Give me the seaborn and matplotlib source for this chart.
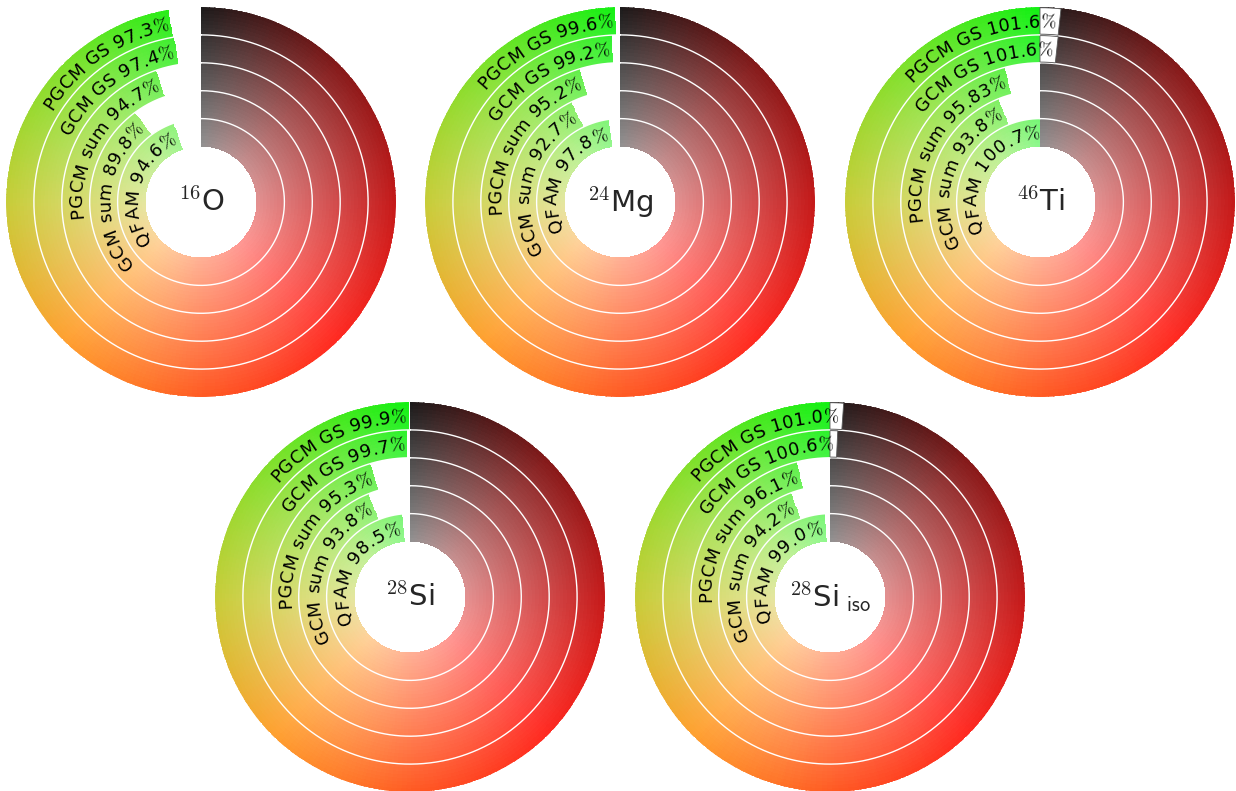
import numpy as np
import matplotlib
matplotlib.use('Agg')
import matplotlib.pyplot as plt
import seaborn as sns
from matplotlib.font_manager import FontProperties, findfont, get_font
from matplotlib.mathtext import MathTextParser

# chart data
symbols = ['O', 'Mg', 'Ti', 'Si', 'Si']
mass_numbers = [16, 24, 46, 28, 28]
suffixes = ['', '', '', '', 'iso']
methods = ['PGCM GS', 'GCM GS', 'PGCM sum', 'GCM sum', 'QFAM']
pct_O = [97.3, 97.4, 94.7, 89.8, 94.6]
pct_Mg = [99.6, 99.2, 95.2, 92.7, 97.8]
pct_Ti = [101.6, 101.6, 95.83, 93.8, 100.7]
pct_Si = [99.9, 99.7, 95.3, 93.8, 98.5]
pct_Si_iso = [101.0, 100.6, 96.1, 94.2, 99.0]
all_pct = [pct_O, pct_Mg, pct_Ti, pct_Si, pct_Si_iso]

# angular colour stops, clockwise from 12 o'clock
ring_colors = ['#1c1a1a', '#841818', '#c41818', '#ff2820', '#ff5a22',
               '#ffa030', '#c8cc38', '#80e02a', '#12f012']

sns.set_theme(style='white')
plt.rcParams['font.family'] = ['DejaVu Sans']
plt.rcParams['mathtext.fontset'] = 'cm'

DPI = 100
W, H = 1236, 791
fig = plt.figure(figsize=(W / DPI, H / DPI), dpi=DPI)

centers = [(201, 202), (620, 202), (1040, 202), (410, 597), (830, 597)]
R_OUT = 195
edges = np.linspace(55.5, R_OUT, 6)
NPAL = 720
palette = np.array(sns.blend_palette(ring_colors, n_colors=NPAL + 1))

FS = 13
FS_PX = FS * DPI / 72
prop = FontProperties(family='DejaVu Sans', size=FS)
font = get_font(findfont(prop))
font.set_size(FS, DPI)
pct_w = MathTextParser('path').parse(r'$\%$', dpi=72, prop=prop).width * DPI / 72


def advance(c):
    if c == '%':
        return pct_w
    return font.load_char(ord(c)).linearHoriAdvance / 65536


for k, (cx, cy) in enumerate(centers):
    ax = fig.add_axes([(cx - R_OUT) / W, (H - cy - R_OUT) / H, 2 * R_OUT / W, 2 * R_OUT / H],
                      projection='polar')
    ax.set_theta_zero_location('N')
    ax.set_theta_direction(-1)
    ax.set_ylim(0, R_OUT)
    ax.axis('off')

    for i, (m, v) in enumerate(zip(methods, all_pct[k])):
        r_in, r_out = edges[4 - i], edges[5 - i]
        end = 2 * np.pi * min(v, 100) / 100
        nt = max(int(end / (2 * np.pi) * NPAL), 2)
        th = np.linspace(0, end, nt + 1)
        rr = np.linspace(r_in, r_out, 9)
        tc = (th[:-1] + th[1:]) / 2
        rc = (rr[:-1] + rr[1:]) / 2
        idx = np.clip(np.round(tc / (2 * np.pi) * NPAL).astype(int), 0, NPAL)
        base = palette[idx]
        wht = 0.52 * (R_OUT - rc) / (R_OUT - edges[0])
        rgb = base[None, :, :] * (1 - wht[:, None, None]) + wht[:, None, None]
        ax.pcolormesh(th, rr, rgb, shading='flat', antialiased=False, zorder=1)

        r_mid = (r_in + r_out) / 2
        tend = 2 * np.pi * v / 100
        # white box where the label runs past 100 %
        if v > 100 and (tend - 2 * np.pi) * r_mid > 4:
            ext = tend - 2 * np.pi + 1.5 / r_out
            ax.bar(2 * np.pi + ext / 2, r_out - r_in - 1.5, width=ext, bottom=r_in + 0.75,
                   color='white', edgecolor='0.35', linewidth=0.6, zorder=3)

        # curved label, right-aligned to the ring end
        label = f'{m} {v}%'
        adv = [advance(c) for c in label]
        total = sum(adv)
        rb = r_mid - 0.36 * FS_PX
        rs = rb - 2
        tstop = tend - 2 / rb
        cum = 0
        for c, a in zip(label, adv):
            ang = tstop - (total - cum - a / 2) / rs
            cum += a
            if c == ' ':
                continue
            s = r'$\%$' if c == '%' else c
            ax.text(ang, rb, s, fontsize=FS, rotation=-np.degrees(ang), rotation_mode='anchor',
                    ha='center', va='baseline', color='black', zorder=4)

    for r in edges[1:-1]:
        tt = np.linspace(0, 2 * np.pi, 500)
        ax.plot(tt, np.full_like(tt, r), color='white', lw=1.0, zorder=2)

    name = rf'$^{{{mass_numbers[k]}}}$' + symbols[k]
    if suffixes[k]:
        name += rf'$_{{\ \mathsf{{{suffixes[k]}}}}}$'
    ax.text(0, 0, name, fontsize=21, ha='center', va='center', zorder=5)

fig.savefig('out.png', dpi=DPI)
